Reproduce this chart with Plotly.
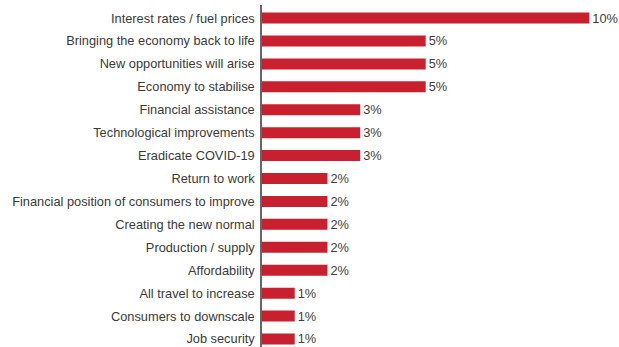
import plotly.graph_objects as go

categories = [
    "Interest rates / fuel prices",
    "Bringing the economy back to life",
    "New opportunities will arise",
    "Economy to stabilise",
    "Financial assistance",
    "Technological improvements",
    "Eradicate COVID-19",
    "Return to work",
    "Financial position of consumers to improve",
    "Creating the new normal",
    "Production / supply",
    "Affordability",
    "All travel to increase",
    "Consumers to downscale",
    "Job security",
]
values = [10, 5, 5, 5, 3, 3, 3, 2, 2, 2, 2, 2, 1, 1, 1]
labels = [f"{v}%" for v in values]

FONT = "Liberation Sans, Arial, sans-serif"

fig = go.Figure(go.Bar(
    x=values,
    y=categories,
    orientation="h",
    marker=dict(color="#C8202F", line=dict(width=0)),
    width=0.48,
    text=labels,
    textposition="outside",
    constraintext="none",
    textfont=dict(family=FONT, size=12.8, color="#404040"),
    cliponaxis=False,
))

n = len(categories)
fig.update_layout(
    width=619,
    height=347,
    margin=dict(l=262, r=10, t=5, b=0),
    paper_bgcolor="white",
    plot_bgcolor="white",
    showlegend=False,
    font=dict(family=FONT, size=12.8, color="#3a3a3a"),
    bargap=0.5,
)
fig.update_xaxes(
    range=[0, 10.6],
    showgrid=False,
    zeroline=False,
    showticklabels=False,
    showline=False,
    ticks="",
)
fig.update_yaxes(
    type="category",
    categoryorder="array",
    categoryarray=categories,
    range=[n - 1 + 0.35, -0.57],
    showgrid=False,
    zeroline=False,
    showline=True,
    linecolor="#666666",
    linewidth=1.5,
    ticks="",
    ticklabelstandoff=3,
    tickfont=dict(family=FONT, size=12.8, color="#3a3a3a"),
)

fig.write_html("out.html")
